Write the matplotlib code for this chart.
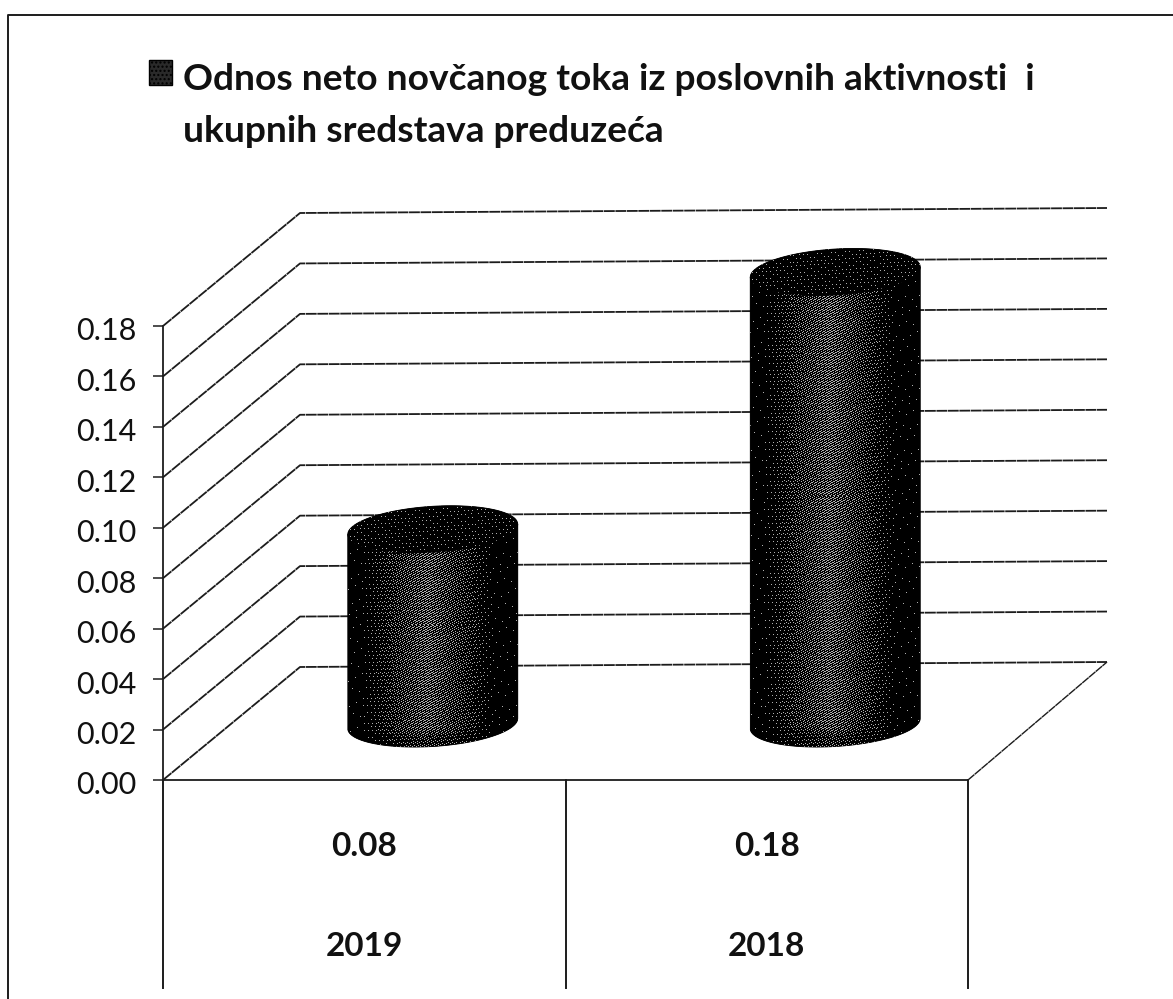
import numpy as np
import matplotlib
matplotlib.use("Agg")
import matplotlib.pyplot as plt
from matplotlib.lines import Line2D
from matplotlib.patches import Polygon, Rectangle
from matplotlib.transforms import ScaledTranslation

years = ["2019", "2018"]
bar_values = [0.077, 0.179]
table_values = ["0.08", "0.18"]
y_ticks = [0.00, 0.02, 0.04, 0.06, 0.08, 0.10, 0.12, 0.14, 0.16, 0.18]
title_lines = ["Odnos neto novčanog toka iz poslovnih aktivnosti  i", "ukupnih sredstava preduzeća"]

W, H = 1173, 999
LINE = "#1c1c1c"
SPECKLE = (0, (6, 0.35))
plt.rcParams["font.family"] = ["Lato", "DejaVu Sans"]

fig = plt.figure(figsize=(W / 100, H / 100), dpi=100)
ax = fig.add_axes([163 / W, 1 - 780 / H, (968 - 163) / W, (780 - 326) / H])
ax.set_xlim(-0.5, 1.5)
ax.set_ylim(0, 0.18)
ax.patch.set_alpha(0)

# pixel sizes in data units
ux = 2.0 / (968 - 163)
uy = 0.18 / (780 - 326)
depth_x, depth_y = 137 * ux, 113 * uy
right_end = 1.5 + 139 * ux


def stipple(h, w, density):
    # deterministic speckle, dots where the density beats the threshold
    jj, ii = np.mgrid[0:h, 0:w]
    thr = (ii * 0.7548776662 + jj * 0.5698402910) % 1.0
    return np.where(thr < density, 0.68, 0.0)


def draw_cylinder(x, value):
    cx = x + depth_x / 2
    base = depth_y / 2
    top = base + value
    half_w = 85 * ux
    t = np.linspace(0, 2 * np.pi, 121)
    ex = np.cos(t)
    ey = np.sin(t)
    tilt = 0.06 * 85 * uy
    cap_h = 23 * uy

    def ring(level):
        return cx + half_w * ex, level + cap_h * ey + tilt * ex

    # body outline, front half of the bottom and whole top
    bx, by = ring(base)
    tx, ty = ring(top)
    lower = ey <= 0
    order = np.argsort(bx[lower])
    body = np.column_stack([
        np.r_[bx[lower][order], tx[0], tx[60]],
        np.r_[by[lower][order], top + tilt, top - tilt],
    ])
    body_patch = Polygon(body, closed=True, fc="black", ec="black", lw=0.6, clip_on=False, zorder=3)
    ax.add_patch(body_patch)

    px_w = 172
    px_h = int((value + 2 * cap_h) / uy) + 6
    u = np.linspace(-1, 1, px_w)
    side = np.clip(1 - np.abs(u + 0.06) / 0.80, 0, 1) ** 1.2
    v = np.linspace(1, 0, px_h)[:, None]
    fade = np.clip(v * px_h / 20, 0.5, 1)
    dens = 0.40 * side[None, :] * fade + 0.012
    im = ax.imshow(stipple(px_h, px_w, dens), cmap="gray", vmin=0, vmax=1, aspect="auto",
                   extent=[cx - half_w, cx + half_w, base - cap_h - 2 * uy, top + cap_h + 2 * uy],
                   interpolation="nearest", zorder=4)
    im.set_clip_path(body_patch)
    im.set_clip_box(fig.bbox)

    cap_patch = Polygon(np.column_stack([tx, ty]), closed=True, fc="black", ec="black", lw=0.6,
                        clip_on=False, zorder=5)
    ax.add_patch(cap_patch)
    cap_h_px = int(2 * cap_h / uy) + 26
    im2 = ax.imshow(stipple(cap_h_px, px_w, np.full((cap_h_px, px_w), 0.05)), cmap="gray", vmin=0, vmax=1,
                    aspect="auto",
                    extent=[cx - half_w, cx + half_w, top - cap_h - 13 * uy, top + cap_h + 13 * uy],
                    interpolation="nearest", zorder=6)
    im2.set_clip_path(cap_patch)
    im2.set_clip_box(fig.bbox)


# wall, side wall and floor
for v in y_ticks:
    ax.plot([-0.5, -0.5 + depth_x, right_end], [v, v + depth_y, v + depth_y + 5 * uy],
            color=LINE, lw=1.3, ls=SPECKLE, clip_on=False, zorder=1)
ax.plot([1.5, right_end], [0, depth_y + 5 * uy], color=LINE, lw=1.0, ls=SPECKLE, clip_on=False, zorder=1)

for i, v in enumerate(bar_values):
    draw_cylinder(i, v)
ax.set_xlim(-0.5, 1.5)
ax.set_ylim(0, 0.18)

# axes
for name in ["top", "right"]:
    ax.spines[name].set_visible(False)
for name in ["left", "bottom"]:
    ax.spines[name].set_color(LINE)
    ax.spines[name].set_linewidth(1.3)
ax.set_xticks([])
ax.set_yticks(y_ticks)
ax.set_yticklabels([f"{v:.2f}" for v in y_ticks], fontsize=22, color="#111111")
ax.tick_params(axis="y", length=7, width=1.1, color=LINE, pad=12)
shift = ScaledTranslation(0, -3 / 100, fig.dpi_scale_trans)
for lab in ax.get_yticklabels():
    lab.set_transform(lab.get_transform() + shift)

# data table under the chart
table_bottom = -208 * uy
for x in [-0.5, 0.5, 1.5]:
    ax.plot([x, x], [0, table_bottom], color=LINE, lw=1.4, clip_on=False, zorder=2)
for i in range(len(years)):
    ax.text(i, -66 * uy, table_values[i], ha="center", va="center", fontsize=24, fontweight="bold", color="#111111")
    ax.text(i, -167 * uy, years[i], ha="center", va="center", fontsize=24, fontweight="bold", color="#111111")

# title with legend key
fig.text(183 / W, 1 - 90 / H, title_lines[0], fontsize=26.7, fontweight="bold", color="#111111", va="baseline")
fig.text(183 / W, 1 - 142 / H, title_lines[1], fontsize=26.7, fontweight="bold", color="#111111", va="baseline")
fig.patches.append(Rectangle((149 / W, 1 - 85 / H), 23 / W, 25 / H, transform=fig.transFigure,
                             fc="#2a2a2a", ec="black", lw=1, hatch="....", figure=fig))

# outer frame, only left and top survive in the scan
fig.add_artist(Line2D([8 / W, 8 / W, 1], [0, 1 - 15 / H, 1 - 15 / H], color=LINE, lw=1.4))

fig.savefig("out.png", dpi=100, facecolor="white")
